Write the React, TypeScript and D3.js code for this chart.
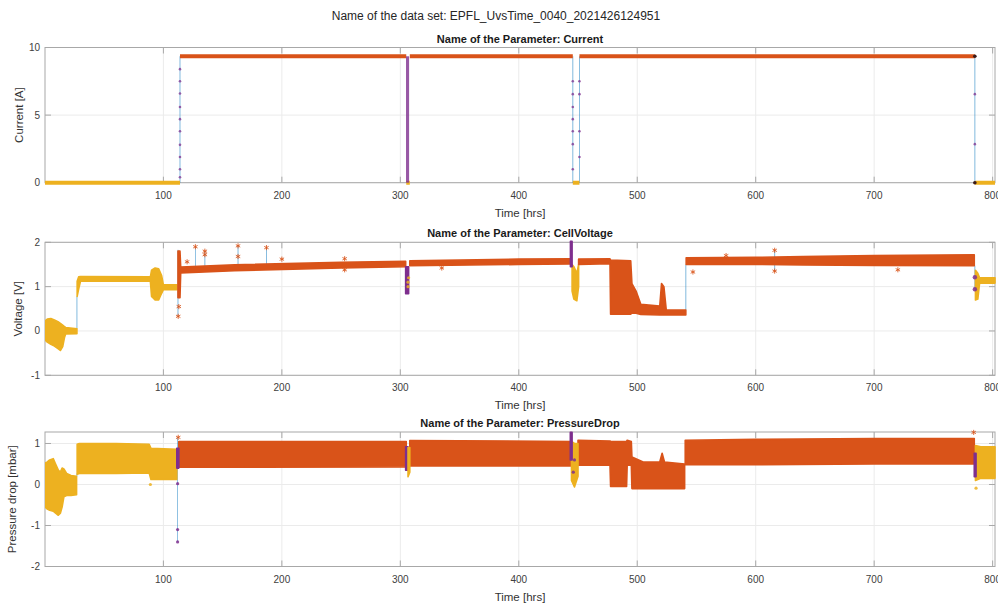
import React from 'react';
import * as d3 from 'd3';

const W = 998;
const H = 603;

const COLORS: Record<string, string> = {
  ocv: '#EDB120',
  on: '#D95319',
  trans: '#7E2F8E',
  line: '#0072BD',
};

const datasetTitle = 'Name of the data set: EPFL_UvsTime_0040_2021426124951';
const xTicks = [100, 200, 300, 400, 500, 600, 700, 800];
const xDomain = [0.05, 802];

// ---------- Current panel ----------
const currentTicks = [0, 5, 10];
const currentLevel = 9.35;
const currentOnSegments = [[114, 305], [308, 445.6], [451.2, 785]];
const currentOcvSegments = [[0.05, 114], [305, 308], [445.6, 451.2], [785, 802]];
const currentTransBars = [[304.8, 307.4]];
const currentRampTimes = [114, 445.6, 451.2, 785];
const currentRampDots = [
  [8.4, 7.5, 6.6, 5.6, 4.7, 3.8, 2.8, 1.9, 1.0, 0.4],
  [7.5, 6.55, 5.6, 4.7, 3.8, 2.85, 1.0],
  [7.5, 6.55, 3.8, 1.9],
  [6.55, 2.85],
];

// ---------- Voltage panel: [time, low, high] envelopes ----------
const voltageTicks = [-1, 0, 1, 2];
const voltOcvStart = [[0.05, -0.2, 0.22], [2, -0.25, 0.27], [5, -0.3, 0.28], [8, -0.34, 0.25], [11, -0.4, 0.21], [13, -0.44, 0.17], [15, -0.35, 0.13], [16.5, -0.15, 0.1], [17.5, -0.07, 0.08], [27, -0.06, 0.05]];
const voltOcvRest = [[27.2, 0.78, 1.12], [28.5, 0.95, 1.22], [30, 1.12, 1.23], [89, 1.12, 1.22], [90, 0.78, 1.37], [93, 0.7, 1.42], [96, 0.7, 1.4], [98.5, 0.85, 1.25], [100, 0.93, 1.04], [111.5, 0.93, 1.04]];
const voltOnA = [[112.3, 0.75, 1.8], [114, 0.75, 1.8], [114.6, 1.31, 1.44], [160, 1.36, 1.49], [250, 1.42, 1.55], [304.5, 1.45, 1.57]];
const voltTransA = [[304.5, 0.84, 1.45], [307, 0.84, 1.45]];
const voltOnB = [[308, 1.47, 1.58], [400, 1.5, 1.62], [444, 1.51, 1.63]];
const voltTransB = [[443.6, 1.45, 2.02], [445, 1.45, 2.02]];
const voltOcvB = [[445, 0.9, 1.5], [446.5, 0.72, 1.45], [449, 0.68, 1.3], [450.5, 1.0, 1.5]];
const voltOnC = [[450.5, 1.5, 1.62], [477, 1.52, 1.63], [477.5, 0.38, 1.6], [494.5, 0.38, 1.58], [495.5, 0.4, 1.07], [499, 0.4, 0.9], [503, 0.37, 0.6], [519, 0.36, 0.56], [520.5, 0.36, 1.07], [522.5, 0.36, 1.0], [524.5, 0.36, 0.47], [541, 0.36, 0.47]];
const voltOnD = [[541.3, 1.5, 1.65], [600, 1.5, 1.66], [640, 1.49, 1.68], [700, 1.48, 1.7], [784.5, 1.47, 1.72]];
const voltOcvEnd = [[785.5, 0.7, 1.37], [787.5, 0.72, 1.3], [789, 1.08, 1.2], [802, 1.08, 1.2]];
const voltOnOutliers = [[112.5, 0.33], [113, 0.55], [120, 1.56], [127, 1.9], [135, 1.8], [135, 1.72], [163, 1.92], [163, 1.68], [187, 1.88], [200, 1.62], [253, 1.63], [253, 1.38], [335, 1.42], [547, 1.33], [575, 1.7], [616, 1.82], [616, 1.35], [720, 1.38]];
const voltTransDots = [[785, 1.21], [785, 0.94]];
const voltOcvDots = [[306.5, 1.0], [306.5, 1.1], [307, 1.2]];
const voltConnectors = [[27, 0.05, 0.78], [112.3, 0.32, 1.83], [541, 0.47, 1.5], [785, 0.94, 1.47], [127, 1.45, 1.9], [135, 1.45, 1.8], [163, 1.48, 1.92], [187, 1.5, 1.88], [616, 1.35, 1.82]];

// ---------- Pressure-drop panel ----------
const pressureTicks = [-2, -1, 0, 1];
const presOcvStart = [[0.05, -0.55, 0.52], [2, -0.6, 0.55], [4, -0.63, 0.6], [7, -0.65, 0.63], [9, -0.7, 0.5], [11.3, -0.75, 0.35], [13, -0.7, 0.3], [14.5, -0.55, 0.4], [16, -0.3, 0.38], [18.3, -0.27, 0.27], [22, -0.27, 0.22], [26.7, -0.25, 0.2]];
const presOcvRest = [[27.2, 0.25, 0.98], [29, 0.27, 1.0], [60, 0.27, 1.0], [88, 0.28, 0.98], [89.5, 0.12, 0.88], [111.3, 0.12, 0.86]];
const presTransA = [[111.3, 0.4, 0.88], [113, 0.4, 0.88]];
const presOnA = [[113, 0.42, 1.05], [305, 0.43, 1.05]];
const presTransB = [[304.5, 0.35, 0.92], [306.5, 0.35, 0.92]];
const presOcvB = [[306.5, 0.19, 0.9], [308, 0.3, 0.9]];
const presOnB = [[308, 0.45, 1.07], [444, 0.45, 1.05]];
const presTransC = [[443.5, 0.6, 1.27], [445, 0.6, 1.27]];
const presOcvC = [[444.5, 0.1, 1.05], [447, -0.06, 1.0], [450, 0.2, 1.0]];
const presOnC = [[450, 0.47, 1.08], [477, 0.47, 1.06], [477.5, -0.05, 1.05], [491, -0.05, 1.05], [491.5, 0.47, 1.08], [495, 0.47, 1.05], [495.5, -0.1, 0.67], [505, -0.1, 0.55], [519, -0.1, 0.55], [521, -0.1, 0.76], [523, -0.1, 0.55], [540, -0.1, 0.5]];
const presOnD = [[540.5, 0.48, 1.08], [600, 0.48, 1.1], [700, 0.5, 1.12], [784.5, 0.5, 1.12]];
const presTransD = [[784.5, 0.19, 0.76], [786, 0.19, 0.76]];
const presOcvD = [[785.5, 0.1, 0.95], [790, 0.15, 0.92], [802, 0.15, 0.92]];
const presOnOutliers = [[784, 1.27], [112.5, 1.15]];
const presTransDots = [[112, -1.4], [112, -1.1], [112, 0.02], [446, 0.3], [447, 0.6]];
const presOcvDots = [[89, 0.0], [786, -0.09]];
const presConnectors = [[112, -1.4, 1.15], [27, 0.2, 0.27]];

type Band = { phase: string; pts: number[][] };

const voltageBands: Band[] = [
  { phase: 'ocv', pts: voltOcvStart },
  { phase: 'ocv', pts: voltOcvRest },
  { phase: 'on', pts: voltOnA },
  { phase: 'trans', pts: voltTransA },
  { phase: 'on', pts: voltOnB },
  { phase: 'ocv', pts: voltOcvB },
  { phase: 'trans', pts: voltTransB },
  { phase: 'on', pts: voltOnC },
  { phase: 'on', pts: voltOnD },
  { phase: 'ocv', pts: voltOcvEnd },
];

const pressureBands: Band[] = [
  { phase: 'ocv', pts: presOcvStart },
  { phase: 'ocv', pts: presOcvRest },
  { phase: 'on', pts: presOnA },
  { phase: 'trans', pts: presTransA },
  { phase: 'on', pts: presOnB },
  { phase: 'trans', pts: presTransB },
  { phase: 'ocv', pts: presOcvB },
  { phase: 'on', pts: presOnC },
  { phase: 'ocv', pts: presOcvC },
  { phase: 'trans', pts: presTransC },
  { phase: 'on', pts: presOnD },
  { phase: 'ocv', pts: presOcvD },
  { phase: 'trans', pts: presTransD },
];

const FONT = 'Liberation Sans, Arial, Helvetica, sans-serif';
const LEFT = 45;
const RIGHT = 995;

const x = d3.scaleLinear().domain(xDomain).range([LEFT, RIGHT]);

type PanelProps = {
  top: number;
  bottom: number;
  yDomain: [number, number];
  yTicks: number[];
  title: string;
  yLabel: string;
  yLabelX: number;
  children: (y: d3.ScaleLinear<number, number>) => React.ReactNode;
};

function Panel({ top, bottom, yDomain, yTicks, title, yLabel, yLabelX, children }: PanelProps) {
  const y = d3.scaleLinear().domain(yDomain).range([bottom, top]);
  const axisColor = '#a8a8a8';
  const gridColor = '#ebebeb';
  const clipId = 'clip' + Math.round(top);
  const midY = (top + bottom) / 2;
  return (
    <g>
      <defs>
        <clipPath id={clipId}>
          <rect x={LEFT} y={top - 3} width={RIGHT - LEFT + 3} height={bottom - top + 6} />
        </clipPath>
      </defs>
      <rect x={LEFT} y={top} width={RIGHT - LEFT} height={bottom - top} fill="#fff" />
      {xTicks.map((t) => (
        <line key={'gx' + t} x1={x(t)} x2={x(t)} y1={top} y2={bottom} stroke={gridColor} strokeWidth={1} />
      ))}
      {yTicks.map((t) => (
        <line key={'gy' + t} x1={LEFT} x2={RIGHT} y1={y(t)} y2={y(t)} stroke={gridColor} strokeWidth={1} />
      ))}
      <rect x={LEFT} y={top} width={RIGHT - LEFT} height={bottom - top} fill="none" stroke={axisColor} strokeWidth={1} />
      {xTicks.map((t) => (
        <g key={'tx' + t}>
          <line x1={x(t)} x2={x(t)} y1={bottom} y2={bottom - 6} stroke={axisColor} />
          <line x1={x(t)} x2={x(t)} y1={top} y2={top + 6} stroke={axisColor} />
          <text x={x(t)} y={bottom + 16} textAnchor="middle" fontSize={10} fill="#404040" fontFamily={FONT}>
            {t}
          </text>
        </g>
      ))}
      {yTicks.map((t) => (
        <g key={'ty' + t}>
          <line x1={LEFT} x2={LEFT + 6} y1={y(t)} y2={y(t)} stroke={axisColor} />
          <line x1={RIGHT} x2={RIGHT - 6} y1={y(t)} y2={y(t)} stroke={axisColor} />
          <text x={LEFT - 5} y={y(t) + 3.5} textAnchor="end" fontSize={10} fill="#404040" fontFamily={FONT}>
            {t}
          </text>
        </g>
      ))}
      <g clipPath={`url(#${clipId})`}>{children(y)}</g>
      <text x={(LEFT + RIGHT) / 2} y={bottom + 34} textAnchor="middle" fontSize={11.5} fill="#333" fontFamily={FONT}>
        Time [hrs]
      </text>
      <text x={(LEFT + RIGHT) / 2} y={top - 5} textAnchor="middle" fontSize={11} fontWeight="bold" fill="#1a1a1a" fontFamily={FONT}>
        {title}
      </text>
      <text
        transform={`translate(${yLabelX},${midY}) rotate(-90)`}
        textAnchor="middle"
        fontSize={11.5}
        fill="#333"
        fontFamily={FONT}
      >
        {yLabel}
      </text>
    </g>
  );
}

function Bands({ bands, y }: { bands: Band[]; y: d3.ScaleLinear<number, number> }) {
  const area = d3
    .area<number[]>()
    .x((d) => x(d[0]))
    .y0((d) => y(d[1]))
    .y1((d) => y(d[2]));
  return (
    <g>
      {bands.map((b, i) => (
        <path
          key={i}
          d={area(b.pts) || ''}
          fill={COLORS[b.phase]}
          stroke={COLORS[b.phase]}
          strokeWidth={1.6}
          strokeLinejoin="round"
        />
      ))}
    </g>
  );
}

function Connectors({ items, y }: { items: number[][]; y: d3.ScaleLinear<number, number> }) {
  return (
    <g>
      {items.map((c, i) => (
        <line key={i} x1={x(c[0])} x2={x(c[0])} y1={y(c[1])} y2={y(c[2])} stroke={COLORS.line} strokeWidth={0.7} opacity={0.7} />
      ))}
    </g>
  );
}

const asterisk = d3.symbol().type(d3.symbolAsterisk).size(18)();

function Stars({ pts, color, y }: { pts: number[][]; color: string; y: d3.ScaleLinear<number, number> }) {
  return (
    <g>
      {pts.map((p, i) => (
        <path key={i} d={asterisk || ''} transform={`translate(${x(p[0])},${y(p[1])})`} fill="none" stroke={color} strokeWidth={1} opacity={0.85} />
      ))}
    </g>
  );
}

function Dots({ pts, color, y, r = 1.6 }: { pts: number[][]; color: string; y: d3.ScaleLinear<number, number>; r?: number }) {
  return (
    <g>
      {pts.map((p, i) => (
        <circle key={i} cx={x(p[0])} cy={y(p[1])} r={r} fill={color} opacity={0.85} />
      ))}
    </g>
  );
}

export default function App() {
  return (
    <svg width={W} height={H} style={{ position: 'absolute', left: 0, top: 0, background: '#fff' }}>
      <rect x={0} y={0} width={W} height={H} fill="#fff" />
      <text x={496} y={20} textAnchor="middle" fontSize={12} fill="#262626" fontFamily={FONT}>
        {datasetTitle}
      </text>

      <Panel top={47.5} bottom={182.7} yDomain={[0, 10]} yTicks={currentTicks} title="Name of the Parameter: Current" yLabel="Current [A]" yLabelX={23}>
        {(y) => (
          <g>
            {currentRampTimes.map((t, i) => (
              <line key={'rl' + i} x1={x(t)} x2={x(t)} y1={y(0)} y2={y(currentLevel)} stroke={COLORS.line} strokeWidth={0.7} opacity={0.7} />
            ))}
            {currentOcvSegments.map((s, i) => (
              <line key={'oc' + i} x1={x(s[0])} x2={x(s[1])} y1={y(0)} y2={y(0)} stroke={COLORS.ocv} strokeWidth={4} />
            ))}
            {currentOnSegments.map((s, i) => (
              <line key={'on' + i} x1={x(s[0])} x2={x(s[1])} y1={y(currentLevel)} y2={y(currentLevel)} stroke={COLORS.on} strokeWidth={4} />
            ))}
            {currentTransBars.map((s, i) => (
              <rect key={'tb' + i} x={x(s[0])} width={x(s[1]) - x(s[0])} y={y(currentLevel)} height={y(0) - y(currentLevel)} fill={COLORS.trans} opacity={0.8} />
            ))}
            {currentRampTimes.map((t, i) =>
              currentRampDots[i].map((v, j) => (
                <circle key={'rd' + i + '_' + j} cx={x(t)} cy={y(v)} r={1.3} fill={COLORS.trans} opacity={0.75} />
              ))
            )}
            <circle cx={x(785)} cy={y(currentLevel)} r={1.8} fill="#3a1a1a" />
            <circle cx={x(785)} cy={y(0)} r={1.8} fill="#3a1a1a" />
          </g>
        )}
      </Panel>

      <Panel top={242.3} bottom={375.3} yDomain={[-1, 2]} yTicks={voltageTicks} title="Name of the Parameter: CellVoltage" yLabel="Voltage [V]" yLabelX={22}>
        {(y) => (
          <g>
            <Connectors items={voltConnectors} y={y} />
            <Bands bands={voltageBands} y={y} />
            <Stars pts={voltOnOutliers} color={COLORS.on} y={y} />
            <Dots pts={voltOcvDots} color={COLORS.ocv} y={y} />
            <Dots pts={voltTransDots} color={COLORS.trans} y={y} r={2.2} />
          </g>
        )}
      </Panel>

      <Panel top={432} bottom={566.5} yDomain={[-2, 1.28]} yTicks={pressureTicks} title="Name of the Parameter: PressureDrop" yLabel="Pressure drop [mbar]" yLabelX={16}>
        {(y) => (
          <g>
            <Connectors items={presConnectors} y={y} />
            <Bands bands={pressureBands} y={y} />
            <Stars pts={presOnOutliers} color={COLORS.on} y={y} />
            <Dots pts={presOcvDots} color={COLORS.ocv} y={y} />
            <Dots pts={presTransDots} color={COLORS.trans} y={y} />
          </g>
        )}
      </Panel>
    </svg>
  );
}
